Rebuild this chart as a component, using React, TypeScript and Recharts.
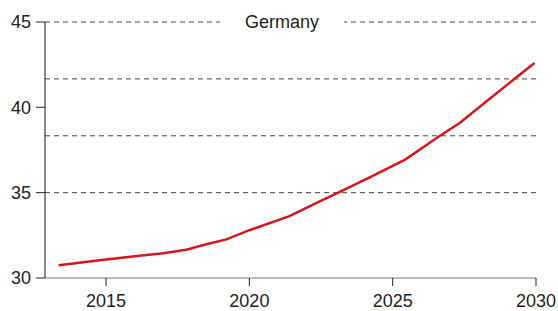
import React from "react";
import {
  LineChart,
  Line,
  XAxis,
  YAxis,
  ReferenceLine,
} from "recharts";

// values
const years = [
  2013.35, 2015, 2016, 2017, 2017.8, 2018.5, 2019.2, 2020, 2021.4, 2022.4,
  2023.1, 2024.2, 2025.45, 2026.6, 2027.35, 2028.05, 2029.2, 2029.95,
];
const values = [
  30.75, 31.08, 31.27, 31.45, 31.66, 31.98, 32.26, 32.8, 33.62, 34.45, 35.0,
  35.9, 36.95, 38.28, 39.1, 40.05, 41.6, 42.6,
];
const xTicks = [2015, 2020, 2025, 2030];
const yTicks = [30, 35, 40, 45];
const gridValues = [35, 38.333, 41.667, 45];
const title = "Germany";

const data = years.map((year, i) => ({ year, value: values[i] }));

const font = "'Liberation Sans', Arial, Helvetica, sans-serif";
const tickStyle = { fontSize: 18, fill: "#222", fontFamily: font };

const TitleLabel = (props: any) => {
  const vb = props.viewBox || {};
  const cx = 282;
  return (
    <g>
      <rect x={cx - 62} y={vb.y - 10} width={124} height={20} fill="#fff" />
      <text
        x={cx}
        y={vb.y}
        textAnchor="middle"
        dominantBaseline="central"
        fontSize={18}
        fill="#222"
        fontFamily={font}
      >
        {title}
      </text>
    </g>
  );
};

const App = () => {
  return (
    <div style={{ position: "absolute", left: 0, top: 0, background: "#fff" }}>
      <LineChart
        width={558}
        height={311}
        data={data}
        margin={{ top: 22, right: 22, bottom: 0, left: 0 }}
      >
        <XAxis
          dataKey="year"
          type="number"
          domain={[2012.87, 2030]}
          ticks={xTicks}
          allowDataOverflow
          height={33}
          tickSize={8}
          tickMargin={8}
          tick={tickStyle}
          axisLine={{ stroke: "#777", strokeWidth: 1 }}
          tickLine={{ stroke: "#222", strokeWidth: 1 }}
        />
        <YAxis
          type="number"
          domain={[30, 45]}
          ticks={yTicks}
          width={45}
          tickSize={9}
          tickMargin={5}
          tick={tickStyle}
          axisLine={{ stroke: "#111", strokeWidth: 1 }}
          tickLine={{ stroke: "#222", strokeWidth: 1 }}
        />
        {gridValues.map((v) => (
          <ReferenceLine
            key={v}
            y={v}
            stroke="#444"
            strokeWidth={1}
            strokeDasharray="5 4"
            label={v === 45 ? <TitleLabel /> : undefined}
          />
        ))}
        <Line
          type="linear"
          dataKey="value"
          stroke="#d2161f"
          strokeWidth={2.5}
          dot={false}
          isAnimationActive={false}
        />
      </LineChart>
    </div>
  );
};

export default App;
